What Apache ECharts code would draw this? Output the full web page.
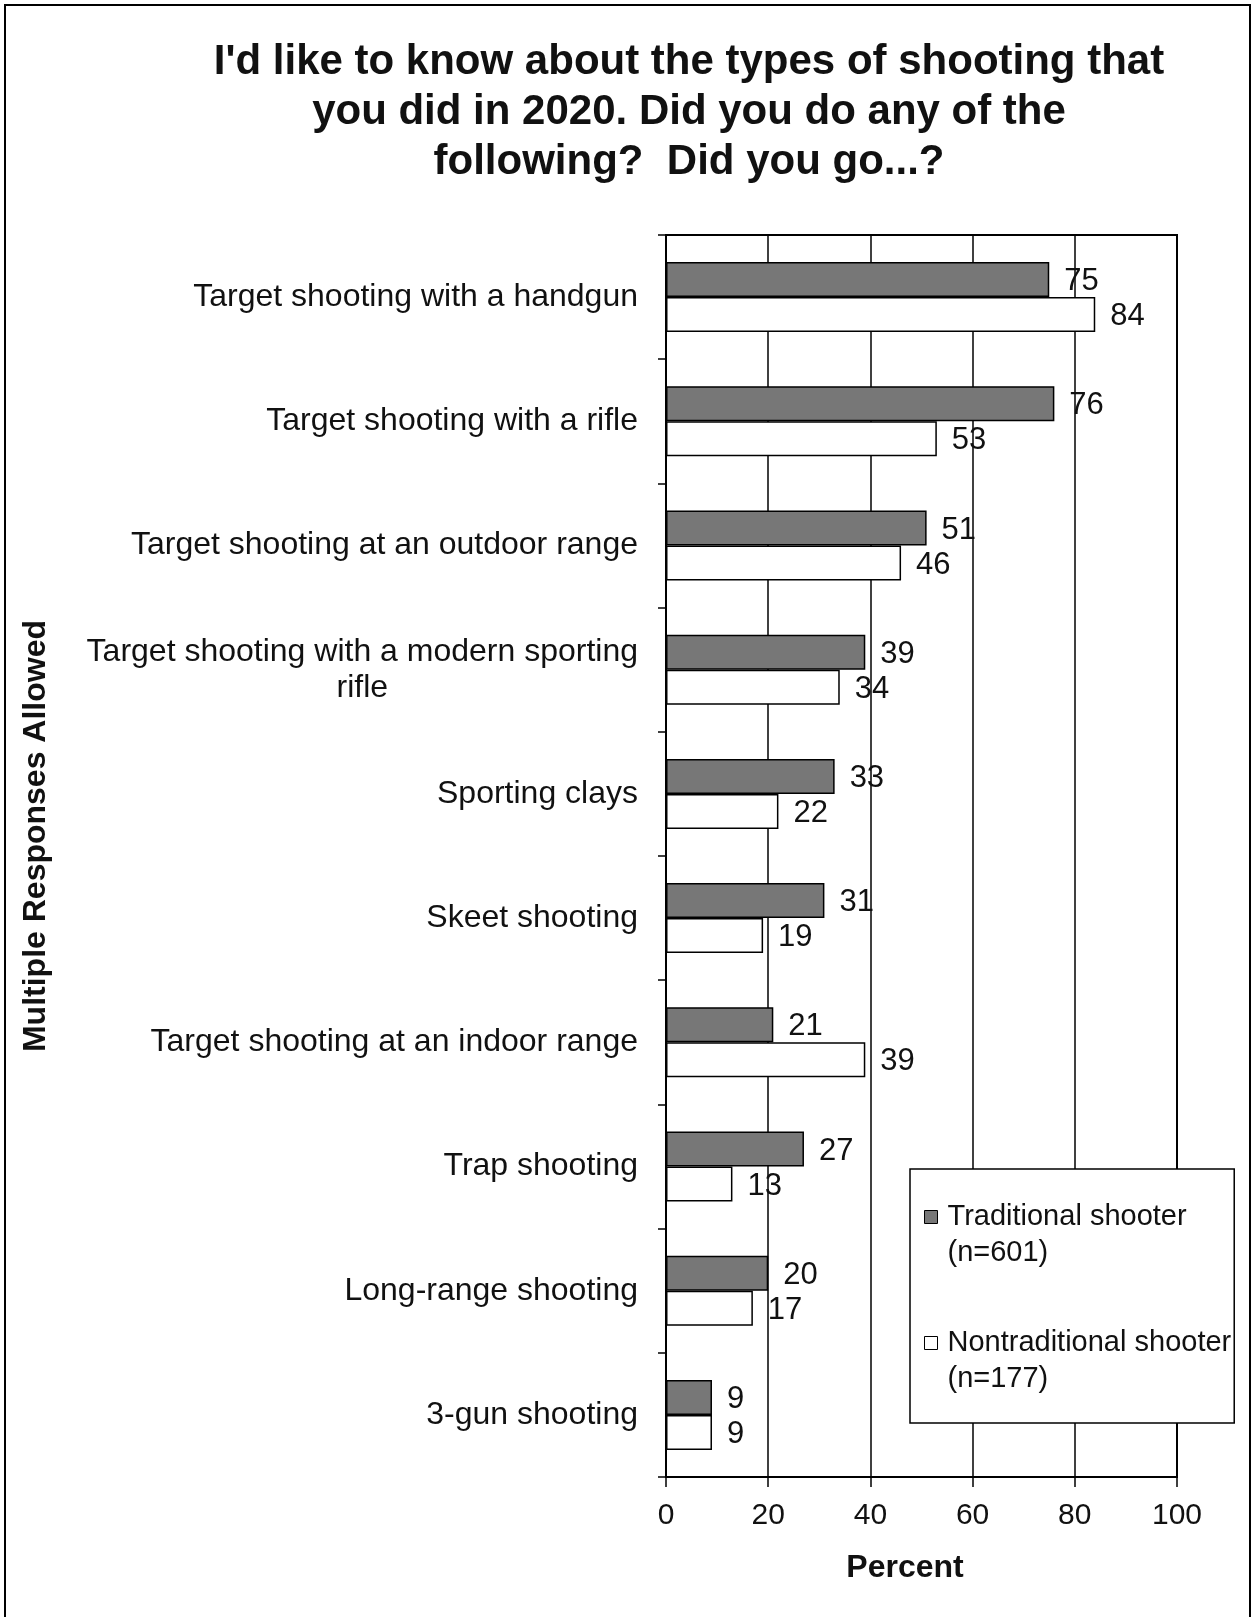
<!DOCTYPE html>
<html>
<head>
<meta charset="utf-8">
<script src="https://cdn.jsdelivr.net/npm/echarts@6/dist/echarts.min.js"></script>
<style>
  html, body { margin: 0; padding: 0; background: #fff; }
  #chart { width: 1254px; height: 1617px; }
</style>
</head>
<body>
<div id="chart"></div>
<script>
// Shooting activities in 2020, percent of respondents (multiple responses allowed)
const categories = [
  'Target shooting with a handgun',
  'Target shooting with a rifle',
  'Target shooting at an outdoor range',
  'Target shooting with a modern sporting\nrifle',
  'Sporting clays',
  'Skeet shooting',
  'Target shooting at an indoor range',
  'Trap shooting',
  'Long-range shooting',
  '3-gun shooting'
];
const traditional = [75, 76, 51, 39, 33, 31, 21, 27, 20, 9];
const nontraditional = [84, 53, 46, 34, 22, 19, 39, 13, 17, 9];
const seriesNames = ['Traditional shooter\n(n=601)', 'Nontraditional shooter\n(n=177)'];
const xTicks = { min: 0, max: 100, interval: 20 };

const FONT = '"Liberation Sans", Arial, sans-serif';
const INK = '#111';

const chart = echarts.init(document.getElementById('chart'), null, { renderer: 'canvas' });

const barLabel = {
  show: true,
  position: 'right',
  distance: 15,
  offset: [0, 2],
  fontFamily: FONT,
  fontSize: 31,
  color: INK
};

chart.setOption({
  backgroundColor: '#fff',
  animation: false,
  textStyle: { fontFamily: FONT, color: INK },
  grid: {
    left: 666, right: 77, top: 235, bottom: 140,
    show: true, borderColor: '#000', borderWidth: 2,
    backgroundColor: 'transparent'
  },
  legend: {
    orient: 'vertical',
    left: 910, top: 1169,
    padding: [30, 3, 26, 14],
    itemGap: 54,
    itemWidth: 18,
    itemHeight: 49,
    // square marker sits beside the first line of each two-line entry
    icon: 'path://M0,0h13v13h-13zM18,49',
    backgroundColor: '#fff',
    borderColor: '#000',
    borderWidth: 1.5,
    selectedMode: false,
    itemStyle: { borderColor: '#000', borderWidth: 1 },
    textStyle: { fontFamily: FONT, fontSize: 29, lineHeight: 36, color: INK },
    data: seriesNames
  },
  xAxis: {
    type: 'value',
    min: xTicks.min, max: xTicks.max, interval: xTicks.interval,
    axisLine: { show: true, lineStyle: { color: '#000', width: 2 } },
    axisTick: { show: true, length: 10, lineStyle: { color: '#000', width: 1.5 } },
    axisLabel: { margin: 24, fontFamily: FONT, fontSize: 30, color: INK },
    splitLine: { show: true, lineStyle: { color: '#000', width: 1.5 } }
  },
  yAxis: {
    type: 'category',
    inverse: true,
    data: categories,
    axisLine: { show: true, lineStyle: { color: '#000', width: 2 } },
    axisTick: { show: true, length: 8, alignWithLabel: false, lineStyle: { color: '#000', width: 1.5 } },
    axisLabel: {
      margin: 28,
      fontFamily: FONT,
      fontSize: 32,
      color: INK,
      formatter: v => v.split('\n').map(s => '{c|' + s + '}').join('\n'),
      rich: { c: { align: 'center', fontFamily: FONT, fontSize: 32, lineHeight: 36, color: INK } }
    }
  },
  series: [
    {
      name: seriesNames[0],
      type: 'bar',
      data: traditional,
      barWidth: 35,
      barGap: '0%',
      itemStyle: { color: '#777777', borderColor: '#000', borderWidth: 1.5 },
      label: barLabel
    },
    {
      name: seriesNames[1],
      type: 'bar',
      data: nontraditional,
      barWidth: 35,
      barGap: '0%',
      itemStyle: { color: '#fff', borderColor: '#000', borderWidth: 1.5 },
      label: barLabel
    }
  ],
  graphic: [
    {
      type: 'rect', silent: true, z: -10,
      shape: { x: 5, y: 5, width: 1245, height: 1640 },
      style: { fill: 'none', stroke: '#000', lineWidth: 2 }
    },
    {
      type: 'text', x: 689, y: 37,
      style: {
        text: "I'd like to know about the types of shooting that\nyou did in 2020. Did you do any of the\nfollowing?  Did you go...?",
        font: 'bold 42px ' + FONT, lineHeight: 50,
        fill: INK, textAlign: 'center', textVerticalAlign: 'top'
      }
    },
    {
      type: 'text', x: 36, y: 836, rotation: Math.PI / 2,
      style: {
        text: 'Multiple Responses Allowed',
        font: 'bold 32px ' + FONT,
        fill: INK, textAlign: 'center', textVerticalAlign: 'middle'
      }
    },
    {
      type: 'text', x: 905, y: 1568,
      style: {
        text: 'Percent',
        font: 'bold 32px ' + FONT,
        fill: INK, textAlign: 'center', textVerticalAlign: 'middle'
      }
    }
  ]
});
</script>
</body>
</html>
